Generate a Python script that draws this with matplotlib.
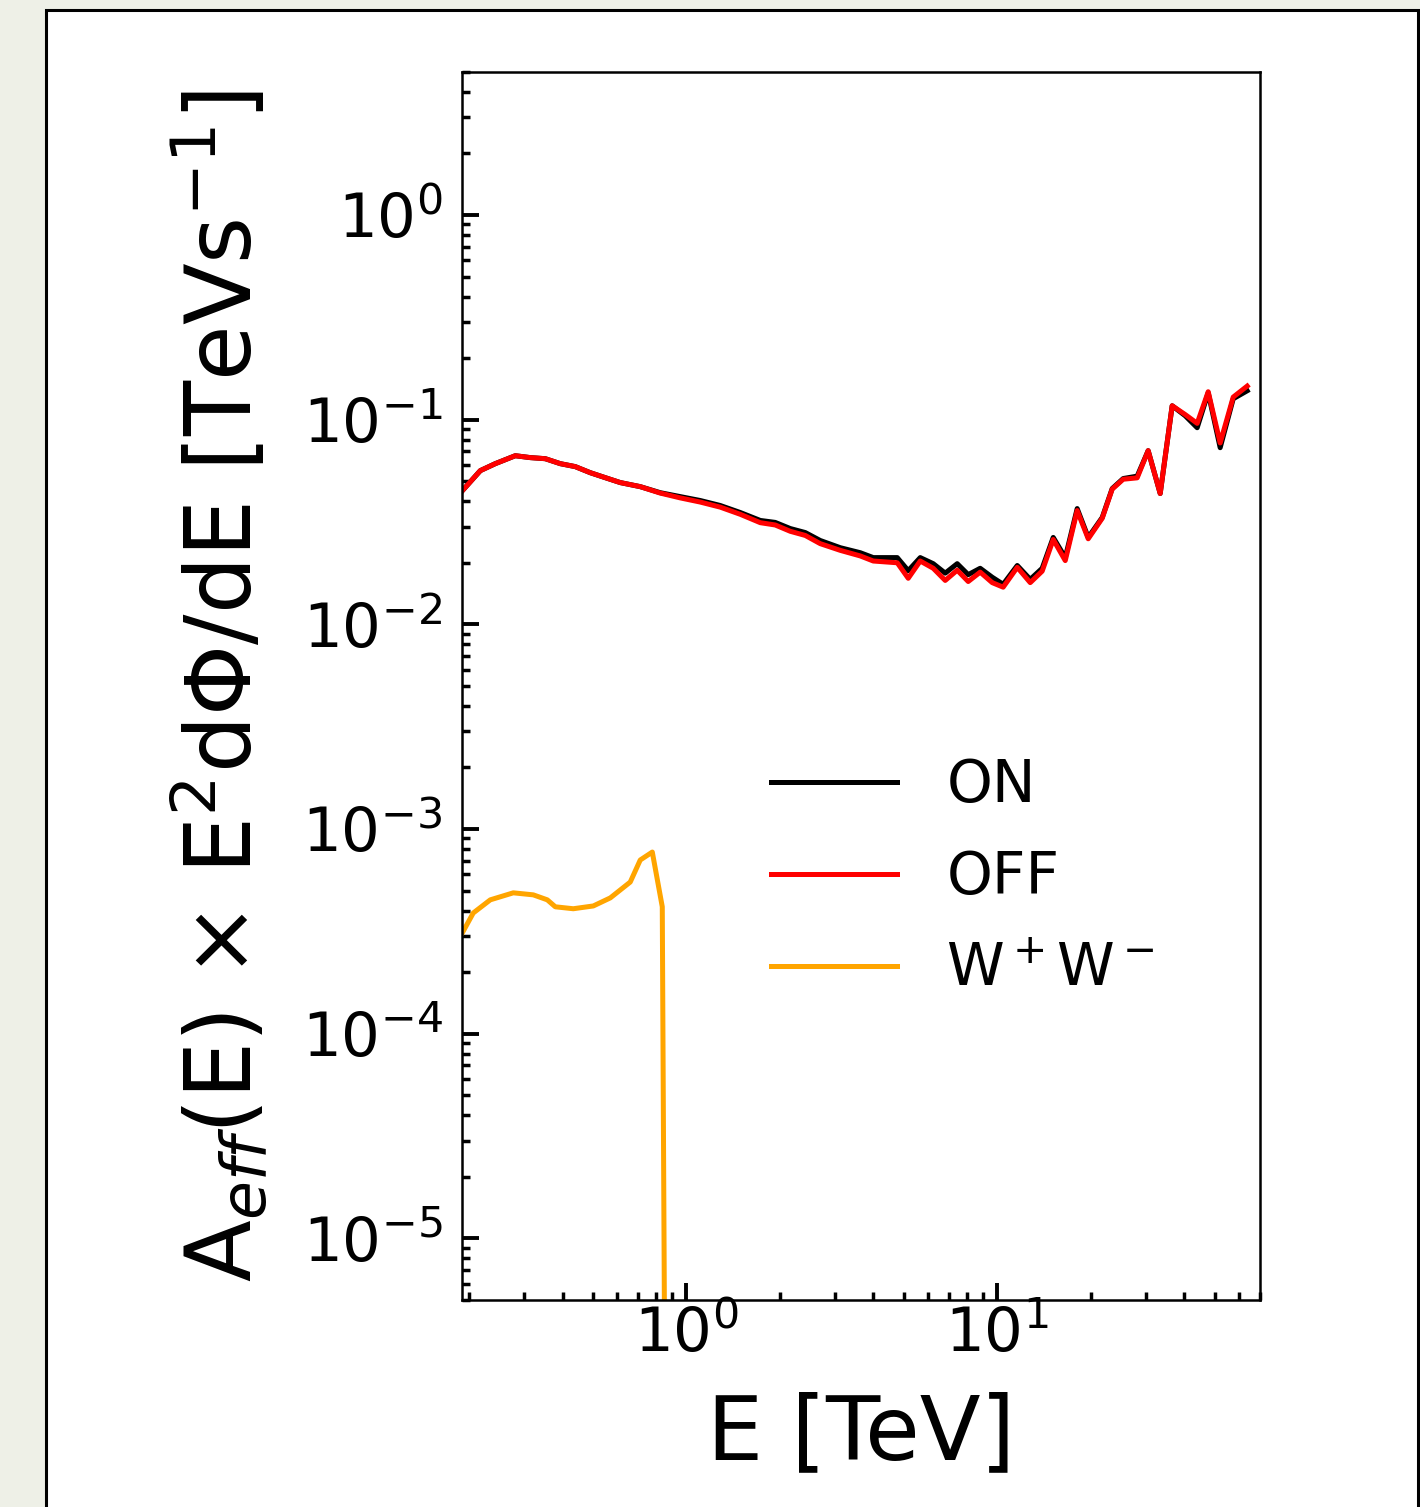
import numpy as np
import matplotlib
matplotlib.use("Agg")
import matplotlib.pyplot as plt
from matplotlib.patches import Rectangle
from matplotlib.ticker import LogLocator, NullFormatter

# ── data ──────────────────────────────────────────────────────────────────────
E_onoff = [0.1905, 0.2176, 0.2431, 0.2819, 0.3150, 0.3521, 0.3934, 0.4396,
           0.4913, 0.5490, 0.6135, 0.7112, 0.8249, 0.9566, 1.109, 1.286,
           1.492, 1.730, 1.932, 2.160, 2.414, 2.697, 3.128, 3.627, 3.994,
           4.770, 5.174, 5.655, 6.226, 6.805, 7.436, 8.068, 8.815, 9.636,
           10.45, 11.60, 12.77, 13.95, 15.14, 16.55, 18.08, 19.62, 21.76,
           23.43, 25.42, 28.19, 30.58, 33.43, 36.53, 40.22, 43.96, 47.70,
           52.12, 57.41, 63.67]

flux_on = [0.0450, 0.0564, 0.0610, 0.0667, 0.0653, 0.0645, 0.0610, 0.0590,
           0.0551, 0.0521, 0.0493, 0.0471, 0.0440, 0.0421, 0.0403, 0.0381,
           0.0352, 0.0322, 0.0315, 0.0294, 0.0281, 0.0257, 0.0237, 0.0224,
           0.0212, 0.0212, 0.0183, 0.0212, 0.0198, 0.0178, 0.0198, 0.0175,
           0.0188, 0.0170, 0.0157, 0.0194, 0.0166, 0.0188, 0.0266, 0.0212,
           0.0368, 0.0266, 0.0333, 0.0461, 0.0516, 0.0530, 0.0706, 0.0436,
           0.1170, 0.1046, 0.0914, 0.1354, 0.0730, 0.1266, 0.1385]

flux_off = [0.0450, 0.0564, 0.0610, 0.0667, 0.0653, 0.0645, 0.0610, 0.0590,
            0.0551, 0.0521, 0.0493, 0.0471, 0.0438, 0.0415, 0.0396, 0.0374,
            0.0345, 0.0314, 0.0306, 0.0285, 0.0272, 0.0248, 0.0230, 0.0216,
            0.0204, 0.0200, 0.0168, 0.0204, 0.0188, 0.0164, 0.0184, 0.0162,
            0.0180, 0.0160, 0.0152, 0.0190, 0.0160, 0.0182, 0.0260, 0.0205,
            0.0360, 0.0262, 0.0330, 0.0458, 0.0512, 0.0520, 0.0706, 0.0436,
            0.1170, 0.1060, 0.0960, 0.1370, 0.0770, 0.1290, 0.1460]

E_ww = [0.1905, 0.2065, 0.2343, 0.2778, 0.3221, 0.3573, 0.3792, 0.4331,
        0.5024, 0.5698, 0.6605, 0.7112, 0.7776, 0.8372, 0.8687]
flux_ww = [3.11e-4, 3.89e-4, 4.51e-4, 4.88e-4, 4.77e-4, 4.51e-4, 4.17e-4,
           4.08e-4, 4.21e-4, 4.61e-4, 5.51e-4, 7.06e-4, 7.72e-4, 4.17e-4, 1e-8]

# ── figure ────────────────────────────────────────────────────────────────────
fig = plt.figure(figsize=(14.2, 15.07), dpi=100, facecolor="#EEF0E7")
frame = Rectangle((46 / 1420, -0.02), (1418 - 46) / 1420,
                  (1507 - 10) / 1507 + 0.02,
                  transform=fig.transFigure, facecolor="white",
                  edgecolor="black", linewidth=2.2, zorder=-10)
fig.add_artist(frame)

ax = fig.add_axes([462 / 1420, 207 / 1507, 798 / 1420, 1228 / 1507])
ax.set_facecolor("white")

ax.plot(E_onoff, flux_on, color="black", lw=3.6, label="ON")
ax.plot(E_onoff, flux_off, color="red", lw=3.6, label="OFF")
ax.plot(E_ww, flux_ww, color="orange", lw=3.6, label=r"W$^+$W$^-$")

ax.set_xscale("log")
ax.set_yscale("log")
ax.set_xlim(0.19, 70)
ax.set_ylim(5e-6, 5)

ax.yaxis.set_major_locator(LogLocator(base=10, numticks=20))
ax.yaxis.set_minor_locator(LogLocator(base=10, subs=np.arange(2, 10), numticks=20))
ax.yaxis.set_minor_formatter(NullFormatter())
ax.xaxis.set_minor_formatter(NullFormatter())

for s in ax.spines.values():
    s.set_linewidth(1.8)
ax.tick_params(which="both", direction="in", top=False, right=False)
ax.tick_params(which="major", length=12, width=2.8, labelsize=44)
ax.tick_params(which="minor", length=6, width=2.5)
ax.tick_params(axis="y", which="major", pad=14)
ax.tick_params(axis="x", which="major", pad=4)

ax.set_xlabel("E [TeV]", fontsize=64)
ax.set_ylabel(r"A$_{eff}$(E) $\times$ E$^2$d$\Phi$/dE [TeVs$^{-1}$]", fontsize=65)
ax.xaxis.set_label_coords(0.5, -0.074)
ax.yaxis.set_label_coords(-0.238, 0.5)

ax.legend(loc="center left", bbox_to_anchor=(0.322, 0.344), frameon=False,
          fontsize=42, handlelength=2.15, handletextpad=0.85, labelspacing=0.6)

plt.savefig("out.png", dpi=100, facecolor=fig.get_facecolor())
